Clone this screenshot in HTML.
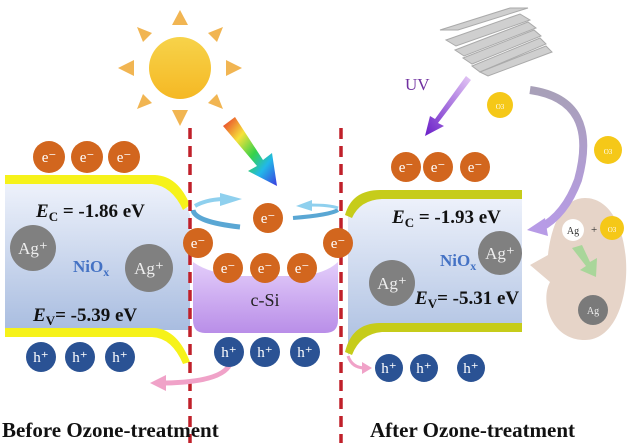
<!DOCTYPE html>
<html><head><style>body{margin:0;background:#fff}svg{display:block}</style></head><body>
<svg width="640" height="443" viewBox="0 0 640 443" xmlns="http://www.w3.org/2000/svg" font-family="Liberation Serif, serif">
<defs>
<linearGradient id="blue" x1="0" y1="0" x2="0" y2="1"><stop offset="0" stop-color="#eef2fb"/><stop offset="1" stop-color="#a9bde0"/></linearGradient>
<linearGradient id="purp" x1="0" y1="0" x2="0" y2="1"><stop offset="0" stop-color="#e3cdfa"/><stop offset="1" stop-color="#b98ee8"/></linearGradient>
<linearGradient id="rain" x1="0" y1="0" x2="1" y2="1"><stop offset="0" stop-color="#e8302a"/><stop offset=".3" stop-color="#f6e23a"/><stop offset=".55" stop-color="#36d24a"/><stop offset=".75" stop-color="#22b8e8"/><stop offset="1" stop-color="#3a3ae0"/></linearGradient>
<linearGradient id="sun" x1="0" y1="0" x2="0" y2="1"><stop offset="0" stop-color="#f7d34a"/><stop offset="1" stop-color="#f5b824"/></linearGradient>
<linearGradient id="uv" x1="1" y1="0" x2="0" y2="1"><stop offset="0" stop-color="#e4c8f5"/><stop offset="1" stop-color="#6a1ec8"/></linearGradient>
<linearGradient id="arc" x1="0" y1="0" x2="0" y2="1"><stop offset="0" stop-color="#a8a0b8"/><stop offset="1" stop-color="#b79be6"/></linearGradient>
</defs>
<g fill="#f1b552">
<polygon points="180,10 172,25 188,25"/><polygon points="180,126 172,110 188,110"/>
<polygon points="118,68 134,60 134,76"/><polygon points="242,68 226,60 226,76"/>
<polygon points="137,27 152,33 143,42"/><polygon points="223,27 208,33 217,42"/>
<polygon points="137,109 143,94 152,103"/><polygon points="223,109 217,94 208,103"/>
</g>
<circle cx="180" cy="68" r="31" fill="url(#sun)"/>
<polygon points="223,126 235,117 263,160 272,153 277,186 248,171 257,166" fill="url(#rain)"/>
<path d="M5,183 L160,183 Q180,185 190,215 L190,330 L5,330 Z" fill="url(#blue)"/>
<path d="M5,175 L155,175 Q178,176 190,205 L183,210 Q172,186 152,184 L5,184 Z" fill="#f6f21a"/>
<path d="M5,328 L155,328 Q178,330 190,362 L183,364 Q172,338 152,337 L5,337 Z" fill="#f6f21a"/>
<path d="M193,262 Q210,274 240,276 L300,276 Q325,274 338,262 L338,320 Q338,333 325,333 L205,333 Q193,333 193,320 Z" fill="url(#purp)"/>
<text x="265" y="306" font-size="18" text-anchor="middle" fill="#222">c-Si</text>
<path d="M193,210 Q195,222 240,227" stroke="#5aa7d4" stroke-width="5" fill="none"/>
<path d="M195,206 Q205,200 222,199" stroke="#8fd0ee" stroke-width="4" fill="none"/>
<polygon points="220,193 242,199 220,206" fill="#8fd0ee"/>
<path d="M293,218 Q330,215 338,210" stroke="#5aa7d4" stroke-width="4" fill="none"/>
<path d="M310,205 Q330,205 338,208" stroke="#8fd0ee" stroke-width="3" fill="none"/>
<polygon points="296,206 312,200 312,211" fill="#8fd0ee"/>
<path d="M348,215 Q355,197 380,196 L522,196 L522,327 L380,327 Q358,330 348,355 Z" fill="url(#blue)"/>
<path d="M345,215 Q352,190 380,190 L522,190 L522,199 L382,199 Q360,200 352,218 Z" fill="#c6cc1a"/>
<path d="M345,352 Q352,323 380,323 L522,323 L522,332 L382,332 Q360,334 352,355 Z" fill="#c6cc1a"/>
<line x1="190" y1="128" x2="190" y2="443" stroke="#c0202a" stroke-width="3.5" stroke-dasharray="11,7"/>
<line x1="341" y1="128" x2="341" y2="443" stroke="#c0202a" stroke-width="3.5" stroke-dasharray="11,7"/>
<path d="M230,364 Q222,382 165,383" stroke="#f0a2c8" stroke-width="5" fill="none"/>
<polygon points="150,383 166,375 166,391" fill="#f0a2c8"/>
<path d="M348,356 Q352,368 365,368" stroke="#f0a2c8" stroke-width="3" fill="none"/>
<polygon points="372,368 362,362 362,374" fill="#f0a2c8"/>
<path d="M585,198 C640,198 640,340 585,340 C550,340 540,300 550,282 L530,265 L548,255 C552,220 565,198 585,198 Z" fill="#e6d4c8"/>
<circle cx="573" cy="230" r="11" fill="#fff"/><text x="573" y="234" font-size="10" text-anchor="middle" fill="#333">Ag</text>
<text x="591" y="233" font-size="11" fill="#333">+</text>
<circle cx="612" cy="228" r="12" fill="#f5c818"/><text x="612" y="232" font-size="7" text-anchor="middle" fill="#fff">O3</text>
<polygon points="572,248 582,245 590,262 597,258 596,277 580,270 586,266" fill="#a9d69a"/>
<circle cx="593" cy="310" r="15" fill="#7a7a7a"/><text x="593" y="314" font-size="10" text-anchor="middle" fill="#eee">Ag</text>
<g fill="#cfcfcf" stroke="#aaa" stroke-width="1">
<polygon points="440,30 510,8 528,8 458,30"/>
<polygon points="446,40 520,14 530,20 456,46"/>
<polygon points="455,50 528,22 536,28 464,56"/>
<polygon points="463,58 534,30 541,36 472,64"/>
<polygon points="472,66 540,38 546,44 480,72"/>
<polygon points="480,72 546,46 552,52 488,76"/>
</g>
<text x="405" y="90" font-size="17" fill="#7030a0">UV</text>
<polygon points="466,76 471,80 438,123 444,126 425,136 430,116 435,119" fill="url(#uv)"/>
<path d="M530,90 Q600,100 578,180 Q565,215 540,228" stroke="url(#arc)" stroke-width="8" fill="none"/>
<polygon points="527,230 545,218 548,236" fill="#b79be6"/>
<circle cx="500" cy="105" r="13" fill="#f5c818"/><text x="500" y="109" font-size="7" text-anchor="middle" fill="#fff">O3</text>
<circle cx="608" cy="150" r="14" fill="#f5c818"/><text x="608" y="154" font-size="7" text-anchor="middle" fill="#fff">O3</text>
<g fill="#d2661e">
<circle cx="49" cy="157" r="16"/><circle cx="87" cy="157" r="16"/><circle cx="124" cy="157" r="16"/>
<circle cx="268" cy="218" r="15"/><circle cx="198" cy="243" r="15"/><circle cx="338" cy="243" r="15"/>
<circle cx="228" cy="268" r="15"/><circle cx="265" cy="268" r="15"/><circle cx="302" cy="268" r="15"/>
<circle cx="406" cy="167" r="15"/><circle cx="438" cy="167" r="15"/><circle cx="475" cy="167" r="15"/>
</g>
<g font-size="15" fill="#fff" text-anchor="middle">
<text x="49" y="162">e⁻</text><text x="87" y="162">e⁻</text><text x="124" y="162">e⁻</text>
<text x="268" y="223">e⁻</text><text x="198" y="248">e⁻</text><text x="338" y="248">e⁻</text>
<text x="228" y="273">e⁻</text><text x="265" y="273">e⁻</text><text x="302" y="273">e⁻</text>
<text x="406" y="172">e⁻</text><text x="438" y="172">e⁻</text><text x="475" y="172">e⁻</text>
</g>
<g fill="#2a5294">
<circle cx="41" cy="357" r="15"/><circle cx="80" cy="357" r="15"/><circle cx="120" cy="357" r="15"/>
<circle cx="229" cy="352" r="15"/><circle cx="265" cy="352" r="15"/><circle cx="305" cy="352" r="15"/>
<circle cx="389" cy="368" r="14"/><circle cx="424" cy="368" r="14"/><circle cx="471" cy="368" r="14"/>
</g>
<g font-size="15" fill="#fff" text-anchor="middle">
<text x="41" y="362">h⁺</text><text x="80" y="362">h⁺</text><text x="120" y="362">h⁺</text>
<text x="229" y="357">h⁺</text><text x="265" y="357">h⁺</text><text x="305" y="357">h⁺</text>
<text x="389" y="373">h⁺</text><text x="424" y="373">h⁺</text><text x="471" y="373">h⁺</text>
</g>
<g fill="#808080"><circle cx="33" cy="248" r="23"/><circle cx="149" cy="268" r="24"/><circle cx="392" cy="283" r="23"/><circle cx="500" cy="253" r="22"/></g>
<g font-size="17" fill="#eee" text-anchor="middle">
<text x="33" y="254">Ag⁺</text><text x="149" y="274">Ag⁺</text><text x="392" y="289">Ag⁺</text><text x="500" y="259">Ag⁺</text>
</g>
<g font-weight="bold" fill="#4472c4" font-size="17">
<text x="73" y="272">NiO<tspan font-size="12" dy="4">x</tspan></text>
<text x="440" y="266">NiO<tspan font-size="12" dy="4">x</tspan></text>
</g>
<g font-weight="bold" font-size="19" fill="#111">
<text x="36" y="217"><tspan font-style="italic">E</tspan><tspan font-size="13" dy="4">C</tspan><tspan dy="-4"> = -1.86 eV</tspan></text>
<text x="33" y="321"><tspan font-style="italic">E</tspan><tspan font-size="13" dy="4">V</tspan><tspan dy="-4">= -5.39 eV</tspan></text>
<text x="392" y="223"><tspan font-style="italic">E</tspan><tspan font-size="13" dy="4">C</tspan><tspan dy="-4"> = -1.93 eV</tspan></text>
<text x="415" y="304"><tspan font-style="italic">E</tspan><tspan font-size="13" dy="4">V</tspan><tspan dy="-4">= -5.31 eV</tspan></text>
</g>
<g font-weight="bold" font-size="21" fill="#111">
<text x="2" y="437">Before Ozone-treatment</text>
<text x="370" y="437">After Ozone-treatment</text>
</g>
</svg>
</body></html>
